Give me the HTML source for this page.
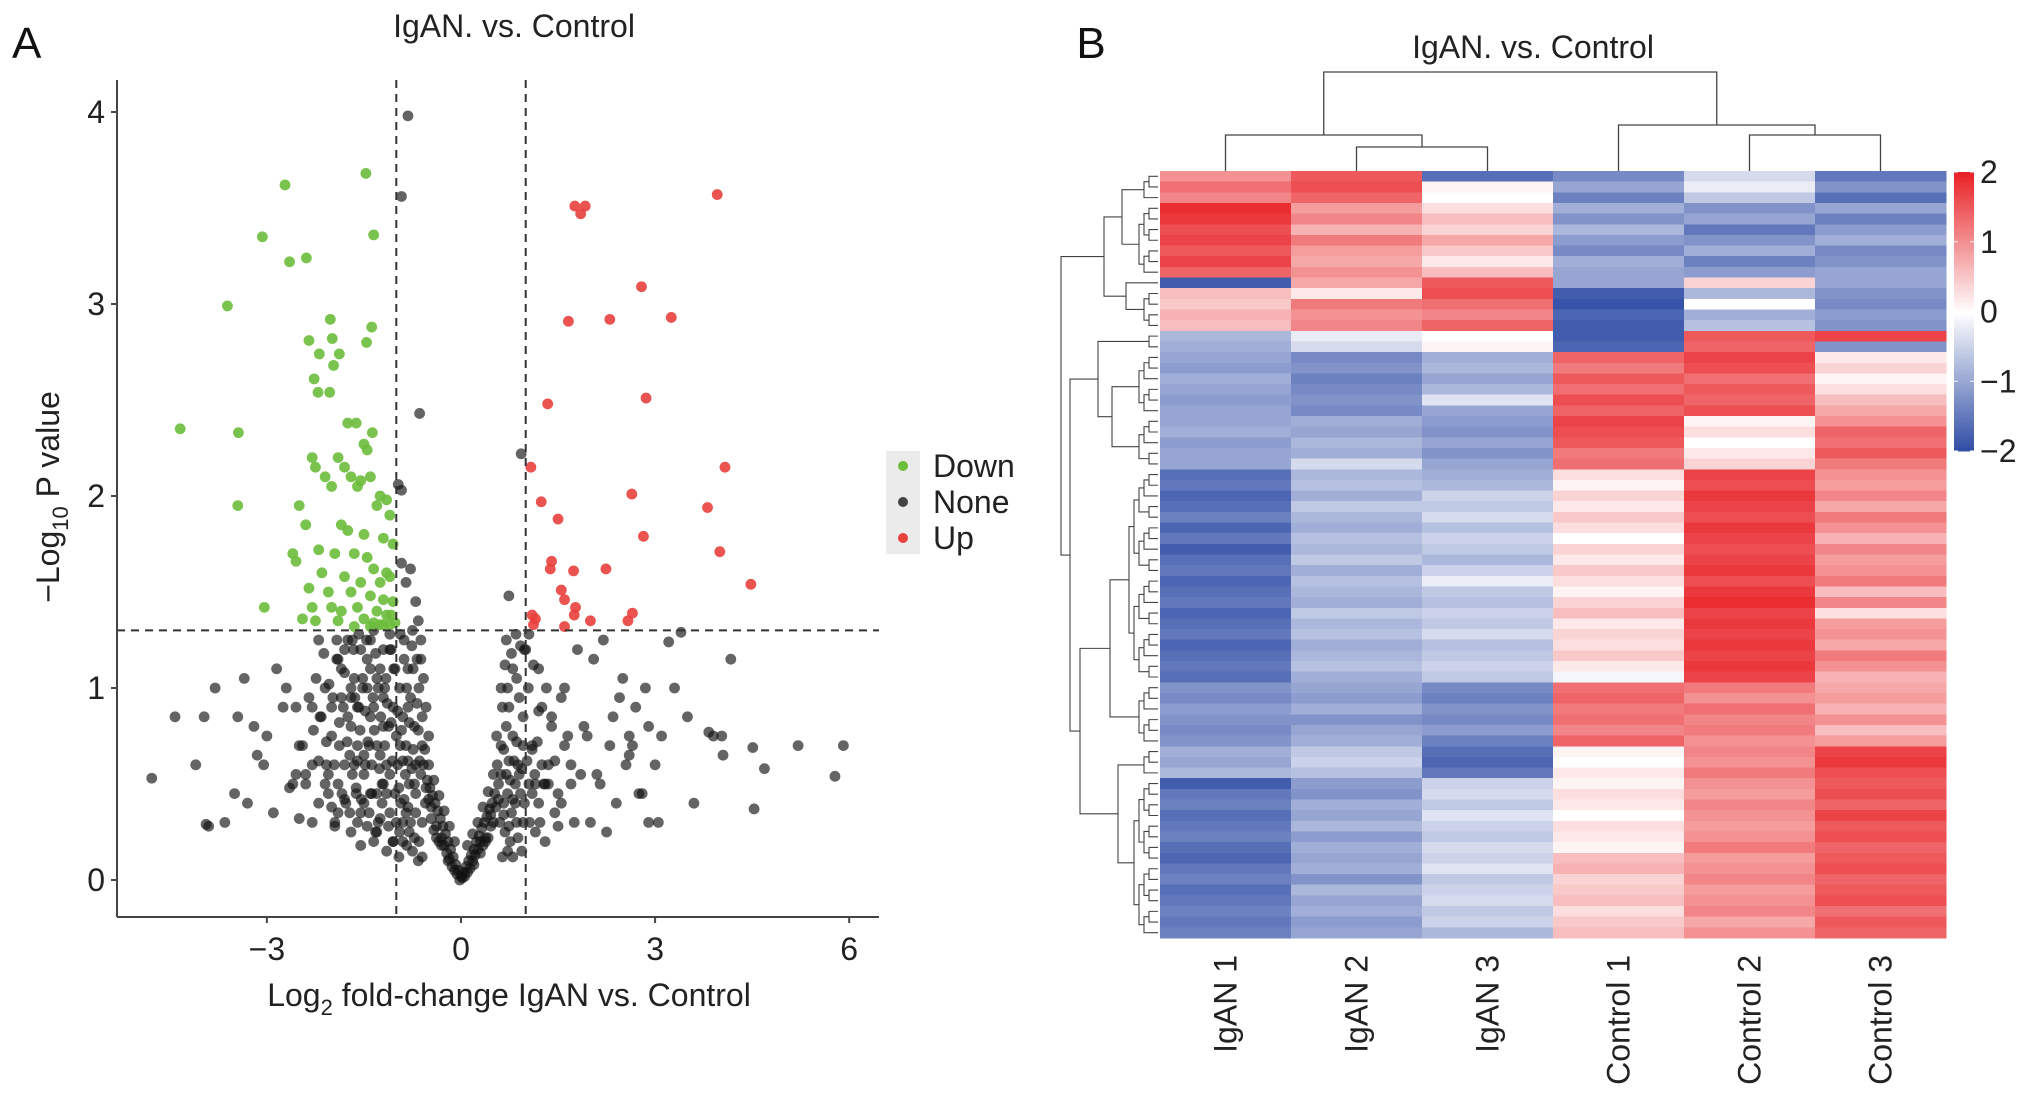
<!DOCTYPE html>
<html><head><meta charset="utf-8"><style>
html,body{margin:0;padding:0;background:#fff;}
svg{display:block;font-family:"Liberation Sans",Arial,sans-serif;}
</style></head><body>
<svg id="fig" width="2032" height="1099" viewBox="0 0 2032 1099" xmlns="http://www.w3.org/2000/svg">
<g id="volcano"></g>
<g id="heat"></g>
</svg>
<script>
// ---------------- Volcano data ----------------
const xTicks = [-3, 0, 3, 6];
const yTicks = [0, 1, 2, 3, 4];
const downX = [-1.47,-2.72,-3.07,-1.35,-2.39,-2.65,-3.61,-2.02,-1.38,-2.35,-1.99,-2.19,-1.88,-1.46,-1.97,-2.27,-2.21,-2.03,-4.34,-3.44,-1.75,-1.62,-1.37,-1.5,-1.45,-3.45,-3.04,
 -2.3,-2.25,-1.9,-1.8,-1.7,-1.55,-1.4,-1.25,-1.15,-1.1,-2.1,-2.0,-1.6,-1.3,-2.5,-2.4,-1.85,-1.75,-1.5,-1.2,-1.05,-2.6,-2.55,-2.2,-1.95,-1.65,-1.45,-1.35,-1.15,-2.15,-1.8,-1.55,-1.25,-1.1,-2.35,-2.05,-1.7,-1.4,-1.2,-1.05,-2.3,-2.0,-1.85,-1.6,-1.3,-1.15,-1.08,-2.45,-2.25,-1.9,-1.5,-1.35,-1.2,-1.1,-1.65,-1.4,-1.25,-1.02];
const downY = [3.68,3.62,3.35,3.36,3.24,3.22,2.99,2.92,2.88,2.81,2.82,2.74,2.74,2.80,2.68,2.61,2.54,2.54,2.35,2.33,2.38,2.38,2.33,2.27,2.24,1.95,1.42,
 2.2,2.15,2.2,2.15,2.1,2.08,2.1,2.0,1.98,1.9,2.1,2.05,2.05,1.95,1.95,1.85,1.85,1.82,1.8,1.78,1.75,1.7,1.66,1.72,1.7,1.7,1.68,1.62,1.6,1.6,1.58,1.55,1.55,1.58,1.52,1.5,1.5,1.48,1.46,1.45,1.42,1.42,1.4,1.42,1.4,1.38,1.38,1.36,1.35,1.35,1.36,1.34,1.33,1.33,1.32,1.32,1.33,1.34];
const upX = [1.76,1.92,1.85,3.96,2.79,1.66,2.30,3.25,1.34,2.86,1.08,4.08,1.24,2.64,3.81,1.50,2.82,4.0,1.40,1.38,1.74,2.24,4.48,1.55,1.60,1.77,1.10,1.15,1.75,2.65,2.58,2.0,1.12,1.60];
const upY = [3.51,3.51,3.47,3.57,3.09,2.91,2.92,2.93,2.48,2.51,2.15,2.15,1.97,2.01,1.94,1.88,1.79,1.71,1.66,1.62,1.61,1.62,1.54,1.51,1.46,1.42,1.38,1.36,1.38,1.39,1.35,1.35,1.33,1.32];
const noneX = [-0.82,-0.92,-0.64,0.93,-0.97,-0.92,0.74,-4.78,-4.42,-3.97,-3.94,-3.8,5.91,5.21,5.78,4.69,4.53,4.51,4.17,3.4,3.21,3.83,4.03,4.05,
 -1.0,-1.1,-1.2,-1.3,-1.4,-1.5,-1.6,-1.7,-1.8,-1.9,-2.0,-2.1,-2.2,-2.3,-1.05,-1.15,-1.25,-1.35,-1.45,-1.55,-1.65,-1.75,-1.85,-1.95,-2.05,-1.02,-1.12,-1.22,-1.32,-1.42,-1.52,-1.62,-1.72,-1.82,-1.92,-1.08,-1.18,-1.28,-1.38,-1.48,-1.58,-1.68,-1.78,-1.88,-1.98,-2.08,-2.18,-2.45,-2.6,-2.75,-2.9,-3.05,-3.2,-3.35,-3.5,-3.65,-2.55,-2.85,-3.15,-3.45,-2.4,-2.7,-3.0,-3.3,-4.1,-3.9,-2.3,
 1.0,1.1,1.2,1.3,1.4,1.5,1.6,1.7,1.8,1.9,2.0,2.1,2.2,2.3,2.4,2.5,2.6,2.7,2.8,2.9,3.0,3.1,3.3,3.5,1.05,1.25,1.45,1.65,1.85,2.05,2.25,2.45,2.65,2.85,3.05,1.15,1.35,1.55,1.75,1.95,2.15,2.35,2.55,2.75,2.6,2.9,3.6,3.9];
const noneY = [3.98,3.56,2.43,2.22,2.06,2.03,1.48,0.53,0.85,0.85,0.29,1.0,0.70,0.70,0.54,0.58,0.37,0.69,1.15,1.29,1.24,0.77,0.75,0.65,
 0.3,0.55,0.8,1.05,1.25,0.4,0.7,0.95,1.2,0.5,0.75,1.0,1.25,0.6,0.2,0.45,0.65,0.9,1.15,0.35,0.6,0.85,1.1,0.3,0.55,1.1,0.8,0.5,0.25,0.7,1.0,0.45,0.65,0.9,1.15,1.2,1.0,0.3,0.45,0.6,0.9,1.25,0.4,0.7,0.95,0.6,0.85,0.7,0.5,0.9,0.35,0.6,0.8,1.05,0.45,0.3,0.55,1.1,0.65,0.85,0.5,1.0,0.75,0.4,0.6,0.28,0.9,1.2,
 0.7,1.1,0.5,0.85,0.45,1.0,0.6,1.2,0.8,0.3,0.55,1.25,0.7,0.4,1.05,0.65,0.9,0.45,0.8,0.6,0.75,1.0,0.85,1.28,0.9,0.35,0.75,0.55,1.15,0.25,0.95,0.7,1.0,0.3,0.5,0.6,0.95,0.3,0.75,0.5,0.85,0.6,0.45,0.75,0.3,0.4,0.75,0.72];
const noneCore = [
[0,0.02],[0.04,0.04],[-0.04,0.05],[0.08,0.07],[-0.08,0.08],[0.12,0.1],[-0.12,0.12],[0.16,0.13],[-0.16,0.16],[0.2,0.16],[-0.2,0.2],[0.24,0.2],[-0.24,0.24],[0.28,0.23],[-0.28,0.28],[0.32,0.27],[-0.32,0.32],[0.36,0.3],[-0.36,0.36],[0.4,0.33],[-0.4,0.4],[0.44,0.37],[-0.44,0.44],[0.48,0.4],[-0.48,0.48],[0.52,0.45],[-0.52,0.52],
[0.1,0.18],[-0.1,0.2],[0.18,0.24],[-0.18,0.28],[0.26,0.3],[-0.26,0.36],[0.34,0.38],[-0.34,0.44],[0.42,0.46],[-0.42,0.52],[0.5,0.55],[-0.5,0.6],[0.56,0.6],[-0.56,0.68],[0.3,0.2],[-0.3,0.22],[0.38,0.22],[-0.38,0.28],[0.46,0.28],[-0.46,0.32],[0.2,0.08],[-0.2,0.1],
[-0.6,0.7],[-0.6,0.85],[-0.62,0.55],[-0.65,1.0],[-0.68,1.15],[-0.7,0.6],[-0.72,0.8],[-0.75,1.3],[-0.78,0.95],[-0.8,0.5],[-0.82,1.1],[-0.85,0.7],[-0.88,1.25],[-0.9,0.85],[-0.93,0.4],[-0.95,1.0],[-0.98,0.6],[-0.55,0.4],[-0.6,0.3],[-0.65,0.2],[-0.7,0.35],[-0.75,0.15],[-0.8,0.25],[-0.85,0.35],[-0.9,0.2],[-0.95,0.25],
[-1.0,0.75],[-1.05,0.9],[-1.1,1.2],[-1.15,0.6],[-1.2,0.95],[-1.25,1.1],[-1.3,0.7],[-1.35,1.3],[-1.4,0.85],[-1.45,1.0],[-1.5,0.55],[-1.55,1.2],[-1.6,0.9],[-1.65,1.05],[-1.7,0.8],[-1.75,1.25],[-1.8,0.6],[-1.85,0.95],[-1.9,1.15],[-2.0,0.9],[-1.1,0.35],[-1.2,0.5],[-1.3,0.25],[-1.4,0.45],[-1.6,0.3],[-1.9,0.35],[-2.1,0.5],[-2.2,0.4],
[-0.62,1.25],[-0.7,1.45],[-0.78,1.62],[-0.85,1.55],[-0.92,1.65],[-0.66,1.35],[-0.74,1.1],[-0.82,0.9],
[0.58,0.5],[0.62,0.7],[0.66,0.4],[0.7,0.55],[0.74,0.62],[0.78,0.35],[0.8,0.75],[0.84,0.5],[0.88,0.6],[0.92,0.45],[0.96,0.7],[0.6,0.3],[0.68,0.25],[0.76,0.2],[0.86,0.3],[0.94,0.15],[0.55,0.75],[0.64,0.9],[0.72,1.0],[0.8,1.1],[0.9,0.95],[0.98,1.2],[0.85,1.28],[0.7,1.25],
[1.05,0.5],[1.1,0.68],[1.2,0.4],[1.25,0.6],[1.35,0.5],[1.45,0.62],[1.55,0.4],[1.6,0.7],[1.7,0.5],[1.15,0.25],[1.3,0.2],[1.5,0.28]
];
const noneDense = [
[-0.02,0.0],[0.02,0.01],[-0.06,0.03],[0.06,0.02],[-0.1,0.05],[0.1,0.04],[-0.14,0.07],[0.14,0.06],[-0.18,0.11],[0.18,0.1],[-0.22,0.14],[0.22,0.13],[-0.26,0.18],[0.26,0.16],[-0.3,0.18],[0.3,0.14],[-0.34,0.2],[0.34,0.18],[-0.38,0.22],[0.38,0.2],[-0.42,0.26],[0.42,0.22],[-0.46,0.38],[0.46,0.34],[-0.5,0.42],[0.5,0.3],[-0.54,0.48],[0.54,0.38],[-0.58,0.6],[0.58,0.42],
[-0.5,0.75],[-0.54,0.9],[-0.58,1.05],[-0.62,1.15],[-0.64,0.62],[-0.66,0.78],[-0.68,0.92],[-0.72,0.5],[-0.74,0.68],[-0.76,1.22],[-0.8,0.82],[-0.82,0.38],[-0.84,1.0],[-0.86,0.55],[-0.88,1.15],[-0.9,0.62],[-0.92,0.78],[-0.94,1.28],[-0.96,0.48],[-0.98,0.88],
[-0.6,0.12],[-0.66,0.1],[-0.72,0.22],[-0.78,0.3],[-0.84,0.18],[-0.9,0.3],[-0.96,0.12],[-0.7,0.45],[-0.76,0.58],[-0.82,0.62],[-0.88,0.42],[-0.94,0.7],
[-1.02,0.45],[-1.04,1.1],[-1.06,0.62],[-1.08,0.82],[-1.1,1.28],[-1.12,0.28],[-1.14,0.92],[-1.16,1.05],[-1.18,0.7],[-1.2,1.2],[-1.22,0.4],[-1.24,0.85],[-1.26,0.58],[-1.28,1.0],[-1.3,0.45],[-1.32,1.18],[-1.34,0.78],[-1.36,0.95],[-1.38,0.6],[-1.4,1.1],[-1.42,0.35],[-1.44,0.72],[-1.46,1.25],[-1.48,0.88],[-1.5,0.65],
[-1.52,1.05],[-1.54,0.42],[-1.56,0.78],[-1.58,1.28],[-1.6,0.62],[-1.62,0.48],[-1.64,0.95],[-1.66,1.2],[-1.68,0.55],[-1.7,1.0],[-1.72,0.35],[-1.76,0.72],[-1.8,1.08],[-1.84,0.45],[-1.88,0.82],[-1.92,1.25],[-1.96,0.6],[-2.0,0.38],[-2.04,1.02],[-2.08,0.72],[-2.12,1.18],[-2.16,0.85],[-2.2,0.62],[-2.24,1.05],[-2.28,0.78],[-2.35,0.95],[-2.4,0.55],[-2.5,0.7],[-2.55,0.9],[-2.65,0.48],
[-1.05,0.2],[-1.15,0.15],[-1.25,0.32],[-1.35,0.2],[-1.45,0.28],[-1.55,0.18],[-1.7,0.25],[-1.8,0.42],[-1.95,0.28],[-2.05,0.45],[-2.3,0.3],[-2.5,0.32],
[0.62,0.55],[0.66,0.68],[0.7,0.8],[0.72,0.45],[0.76,0.52],[0.8,0.42],[0.82,0.62],[0.86,0.72],[0.9,0.55],[0.94,0.58],[0.98,0.4],[1.02,0.62],[1.06,0.3],[1.1,0.45],[1.14,0.55],[1.18,0.72],[1.22,0.3],[1.28,0.5],[0.64,0.12],[0.72,0.15],[0.8,0.12],[0.88,0.22],[0.96,0.3],[0.66,0.34],[0.74,0.28],[0.84,0.4],
[0.62,1.0],[0.68,1.12],[0.74,0.9],[0.78,1.18],[0.86,1.05],[0.92,1.22],[0.96,0.85],[1.04,1.0],[1.12,1.12],[1.2,0.88],[1.32,1.0],[1.4,0.8]
];

// ---------------- Heatmap data ----------------
const sampleLabels = ["IgAN 1","IgAN 2","IgAN 3","Control 1","Control 2","Control 3"];
const colorbarTicks = [2,1,0,-1,-2];
const heatRows = [
[1.0,1.5,-1.6,-1.3,-0.4,-1.5],[1.3,1.6,0.1,-1.0,-0.2,-1.2],[1.1,1.4,0.0,-1.4,-0.6,-1.6],
[1.9,0.9,0.3,-0.9,-1.2,-1.0],[1.8,1.1,0.6,-1.2,-1.0,-1.4],[1.6,0.7,0.4,-0.8,-1.5,-1.1],[1.7,1.2,0.8,-1.1,-1.2,-0.9],[1.5,0.9,0.5,-1.3,-0.9,-1.3],[1.7,0.8,0.2,-0.9,-1.4,-1.2],[1.4,1.0,0.6,-1.0,-1.1,-1.0],
[-1.8,0.8,1.5,-1.0,0.4,-1.0],
[0.6,0.2,1.6,-1.8,-0.8,-1.2],[0.5,1.2,1.3,-1.9,0.0,-1.3],[0.7,1.0,1.1,-1.7,-0.9,-1.1],[0.6,1.1,1.4,-1.8,-0.7,-1.2],
[-0.8,-0.2,0.0,-1.8,1.5,1.7],[-0.9,-0.4,0.1,-1.7,1.4,-1.2],
[-1.0,-1.3,-0.9,1.4,1.7,0.2],[-1.1,-1.2,-0.8,1.2,1.6,0.4],[-0.9,-1.4,-1.0,1.5,1.3,0.1],[-1.0,-1.3,-0.8,1.3,1.5,0.3],[-1.1,-1.2,-0.3,1.6,1.4,0.6],[-1.0,-1.3,-1.0,1.4,1.6,0.8],
[-1.0,-0.9,-1.1,1.7,0.1,1.0],[-0.9,-1.0,-1.2,1.6,0.3,1.4],[-1.1,-0.8,-1.0,1.5,0.0,1.3],[-1.0,-0.9,-1.2,1.2,0.2,1.5],[-1.0,-0.4,-1.0,1.3,0.4,1.2],
[-1.6,-0.8,-0.9,0.3,1.7,1.0],[-1.5,-0.7,-0.8,0.1,1.6,0.9],[-1.7,-0.9,-0.5,0.4,1.8,1.1],[-1.6,-0.6,-0.6,0.2,1.7,0.8],[-1.4,-0.8,-0.4,0.5,1.6,1.2],[-1.7,-0.9,-0.7,0.3,1.8,1.0],[-1.5,-0.7,-0.5,0.0,1.7,0.7],[-1.8,-0.8,-0.6,0.4,1.6,1.1],
[-1.6,-0.6,-0.8,0.2,1.7,0.9],[-1.5,-0.9,-0.5,0.5,1.8,1.0],[-1.7,-0.7,-0.2,0.3,1.6,1.2],[-1.6,-0.8,-0.6,0.1,1.8,0.6],[-1.5,-0.9,-0.7,0.4,1.9,1.1],[-1.7,-0.6,-0.5,0.6,1.7,0.3],[-1.6,-0.8,-0.6,0.2,1.8,0.9],[-1.5,-0.7,-0.4,0.4,1.7,1.0],
[-1.7,-0.9,-0.7,0.3,1.8,0.8],[-1.6,-0.8,-0.6,0.5,1.7,1.2],[-1.5,-0.7,-0.5,0.2,1.8,1.0],[-1.6,-0.9,-0.6,-0.1,1.7,0.7],
[-1.2,-1.0,-1.3,1.3,1.2,0.8],[-1.3,-1.1,-1.4,1.4,1.0,0.9],[-1.1,-0.9,-1.2,1.2,1.3,0.7],[-1.2,-1.2,-1.3,1.3,1.1,1.0],[-1.3,-1.0,-1.1,1.1,1.2,0.6],[-1.2,-0.9,-1.4,1.4,1.0,0.9],
[-0.9,-0.6,-1.6,0.1,1.1,1.7],[-1.0,-0.5,-1.7,0.0,1.0,1.8],[-0.8,-0.7,-1.5,0.2,1.2,1.6],
[-1.8,-1.1,-0.5,0.1,1.0,1.5],[-1.5,-1.2,-0.4,0.3,0.9,1.6],[-1.4,-0.9,-0.6,0.2,1.1,1.4],[-1.6,-1.0,-0.3,0.0,1.0,1.7],[-1.5,-0.8,-0.5,0.3,0.9,1.5],[-1.4,-1.1,-0.6,0.2,1.0,1.6],[-1.6,-0.9,-0.4,0.1,1.2,1.4],[-1.7,-1.0,-0.5,0.6,0.9,1.5],
[-1.5,-0.9,-0.3,0.7,1.0,1.6],[-1.4,-1.2,-0.6,0.4,1.1,1.4],[-1.6,-0.8,-0.5,0.5,0.9,1.5],[-1.5,-1.0,-0.4,0.6,1.0,1.6],[-1.4,-0.9,-0.6,0.3,1.1,1.3],[-1.5,-1.1,-0.5,0.5,0.8,1.5],[-1.4,-1.0,-0.8,0.6,1.0,1.4]
];
const rowBlocks = [[0,2],[3,9],[10,10],[11,14],[15,16],[17,22],[23,27],[28,47],[48,53],[54,56],[57,71]];

const NS = "http://www.w3.org/2000/svg";
function mk(tag, attrs, parent, text){
  const e = document.createElementNS(NS, tag);
  for (const k in attrs) e.setAttribute(k, attrs[k]);
  if (text !== undefined) e.textContent = text;
  parent.appendChild(e); return e;
}
const FS = 32;

// ---------- Panel A ----------
const V = document.getElementById('volcano');
const X0 = 461, XU = 64.7, Y0 = 880, YU = 192;
const xs = v => X0 + v * XU;
const ys = v => Y0 - v * YU;
const axL = 117, axB = 917, axR = 879, axT = 80;

let t = mk('text', {x:12, y:58, 'font-size':44, fill:'#111'}, V, 'A');


t = mk('text', {x:514, y:37, 'font-size':FS, fill:'#222', 'text-anchor':'middle'}, V, 'IgAN. vs. Control');



const pts = mk('g', {}, V);


function dot(x, y, fill, op, name){
  const c = mk('circle', {cx:xs(x), cy:ys(y), r:5.4, fill:fill, 'fill-opacity':op}, pts);
  
  
}
const nN = Math.min(noneX.length, noneY.length);
for (let i = 0; i < nN; i++) dot(noneX[i], noneY[i], '#111', 0.65, 'point-none');
noneCore.forEach(p => dot(p[0], p[1], '#111', 0.65, 'point-none'));
noneDense.forEach(p => dot(p[0], p[1], '#111', 0.65, 'point-none'));
for (let i = 0; i < Math.min(downX.length, downY.length); i++) dot(downX[i], downY[i], '#6dbd3c', 0.9, 'point-down');
for (let i = 0; i < Math.min(upX.length, upY.length); i++) dot(upX[i], upY[i], '#e8403c', 0.9, 'point-up');

const dash = {stroke:'#333', 'stroke-width':2, 'stroke-dasharray':'8,6'};
let l = mk('line', Object.assign({x1:xs(-1), x2:xs(-1), y1:axT, y2:axB}, dash), V);


l = mk('line', Object.assign({x1:xs(1), x2:xs(1), y1:axT, y2:axB}, dash), V);


l = mk('line', Object.assign({x1:axL, x2:axR, y1:ys(1.3), y2:ys(1.3)}, dash), V);



l = mk('line', {x1:axL, x2:axL, y1:axT, y2:axB, stroke:'#444', 'stroke-width':2}, V);


l = mk('line', {x1:axL, x2:axR, y1:axB, y2:axB, stroke:'#444', 'stroke-width':2}, V);


xTicks.forEach(v => {
  const k = mk('line', {x1:xs(v), x2:xs(v), y1:axB, y2:axB+6, stroke:'#444', 'stroke-width':2}, V);
  
  
  const s = mk('text', {x:xs(v), y:axB+43, 'font-size':FS, fill:'#222', 'text-anchor':'middle'}, V, v < 0 ? '\u2212' + Math.abs(v) : String(v));
  
  
});
yTicks.forEach(v => {
  const k = mk('line', {x1:axL-6, x2:axL, y1:ys(v), y2:ys(v), stroke:'#444', 'stroke-width':2}, V);
  
  
  const s = mk('text', {x:axL-12, y:ys(v)+11, 'font-size':FS, fill:'#222', 'text-anchor':'end'}, V, String(v));
  
  
});
t = mk('text', {x:509, y:1006, 'font-size':FS, fill:'#222', 'text-anchor':'middle'}, V);


t.innerHTML = 'Log<tspan font-size="22" dy="9">2</tspan><tspan dy="-9"> fold-change IgAN vs. Control</tspan>';
t = mk('text', {x:0, y:0, 'font-size':FS, fill:'#222', 'text-anchor':'middle', transform:'translate(59,497) rotate(-90)'}, V);


t.innerHTML = '\u2212Log<tspan font-size="22" dy="9">10</tspan><tspan dy="-9"> P value</tspan>';

const lg = mk('g', {}, V);


mk('rect', {x:886, y:451, width:34, height:103, fill:'#ebebeb'}, lg);
[['Down','#6dbd3c',466],['None','#444',502],['Up','#e8403c',538]].forEach(e => {
  const g = mk('g', {}, lg);
  
  
  mk('circle', {cx:903, cy:e[2], r:5, fill:e[1]}, g);
  mk('text', {x:933, y:e[2]+11, 'font-size':FS, fill:'#222'}, g, e[0]);
});

// ---------- Panel B ----------
const H = document.getElementById('heat');
const hL = 1160, hR = 1946, hT = 171, hB = 938;
const nC = sampleLabels.length, nR = heatRows.length;
const cw = (hR - hL) / nC, rh = (hB - hT) / nR;
const colX = i => hL + i * cw;
const rowY = j => hT + j * rh;
function color(v){
  v = Math.max(-2, Math.min(2, v));
  const blue = [45,75,165], white = [255,255,255], red = [232,34,38];
  const a = v < 0 ? blue : red, f = Math.abs(v) / 2;
  const c = white.map((w, k) => Math.round(w + (a[k] - w) * f));
  return 'rgb(' + c.join(',') + ')';
}
t = mk('text', {x:1091, y:58, 'font-size':44, fill:'#111', 'text-anchor':'middle'}, H, 'B');


t = mk('text', {x:1533, y:58, 'font-size':FS, fill:'#222', 'text-anchor':'middle'}, H, 'IgAN. vs. Control');



const cells = mk('g', {'shape-rendering':'crispEdges'}, H);


heatRows.forEach((row, j) => row.forEach((v, i) => {
  const r = mk('rect', {x:colX(i), y:rowY(j), width:cw+0.5, height:rh+0.5, fill:color(v)}, cells);
  
  
}));

sampleLabels.forEach((s, i) => {
  const cx = colX(i) + cw / 2;
  const tx = mk('text', {x:0, y:0, 'font-size':FS, fill:'#222', 'text-anchor':'end', transform:'translate(' + (cx + 11) + ',955) rotate(-90)'}, H, s);
  
  
});

const cd = mk('g', {stroke:'#444', 'stroke-width':1.3, fill:'none'}, H);


function link(x1, y1, x2, y2, yj, g){ mk('path', {d:'M'+x1+','+y1+'V'+yj+'H'+x2+'V'+y2}, g); }
const cc = i => colX(i) + cw / 2;
link(cc(1), hT, cc(2), hT, 147, cd);
const m23 = (cc(1)+cc(2))/2;
link(cc(0), hT, m23, 147, 135, cd);
const mI = (cc(0)+m23)/2;
link(cc(4), hT, cc(5), hT, 135, cd);
const m45 = (cc(4)+cc(5))/2;
link(cc(3), hT, m45, 135, 125, cd);
const mC = (cc(3)+m45)/2;
link(mI, 135, mC, 125, 72, cd);

const rd = mk('g', {stroke:'#444', 'stroke-width':1.1, fill:'none'}, H);


const rowC = j => rowY(j) + rh / 2;
function vlink(a, b, xj){ mk('path', {d:'M'+a.x+','+a.y+'H'+xj+'V'+b.y+'H'+b.x}, rd); return {x:xj, y:(a.y+b.y)/2}; }
function buildBlock(lo, hi){
  if (lo === hi) return {x:hL - 2, y:rowC(lo), d:0};
  const mid = Math.floor((lo + hi) / 2);
  const a = buildBlock(lo, mid), b = buildBlock(mid + 1, hi);
  const d = Math.max(a.d, b.d) + 1;
  const n = vlink(a, b, hL - 6 - d * 5);
  n.d = d; return n;
}
const B = rowBlocks.map(r => buildBlock(r[0], r[1]));
const J = (a, b, x) => vlink(a, b, x);
const n01 = J(B[0], B[1], 1122);
const n23 = J(B[2], B[3], 1126);
const nTop = J(n01, n23, 1104);
const n56 = J(B[5], B[6], 1112);
const n456 = J(B[4], n56, 1098);
const n78 = J(B[7], B[8], 1110);
const n910 = J(B[9], B[10], 1118);
const nLow = J(n78, n910, 1080);
const nBot = J(n456, nLow, 1070);
J(nTop, nBot, 1061);

const cb = mk('g', {}, H);


const cbT = 172, cbB = 451, cbL = 1954, cbW = 20;
const cbY = v => cbT + (2 - v) / 4 * (cbB - cbT);
for (let k = 0; k < 100; k++) {
  const v = 2 - 4 * k / 100;
  mk('rect', {x:cbL, y:cbY(v), width:cbW, height:(cbB-cbT)/100 + 0.6, fill:color(v), 'shape-rendering':'crispEdges'}, cb);
}
colorbarTicks.forEach(v => {
  mk('line', {x1:cbL, x2:cbL+4, y1:cbY(v), y2:cbY(v), stroke:'#fff', 'stroke-width':1}, cb);
  mk('line', {x1:cbL+cbW-4, x2:cbL+cbW, y1:cbY(v), y2:cbY(v), stroke:'#fff', 'stroke-width':1}, cb);
  const s = mk('text', {x:cbL+cbW+6, y:cbY(v)+11, 'font-size':FS, fill:'#222'}, cb, v < 0 ? '\u2212' + Math.abs(v) : String(v));
  
  
});
</script>
</body></html>
